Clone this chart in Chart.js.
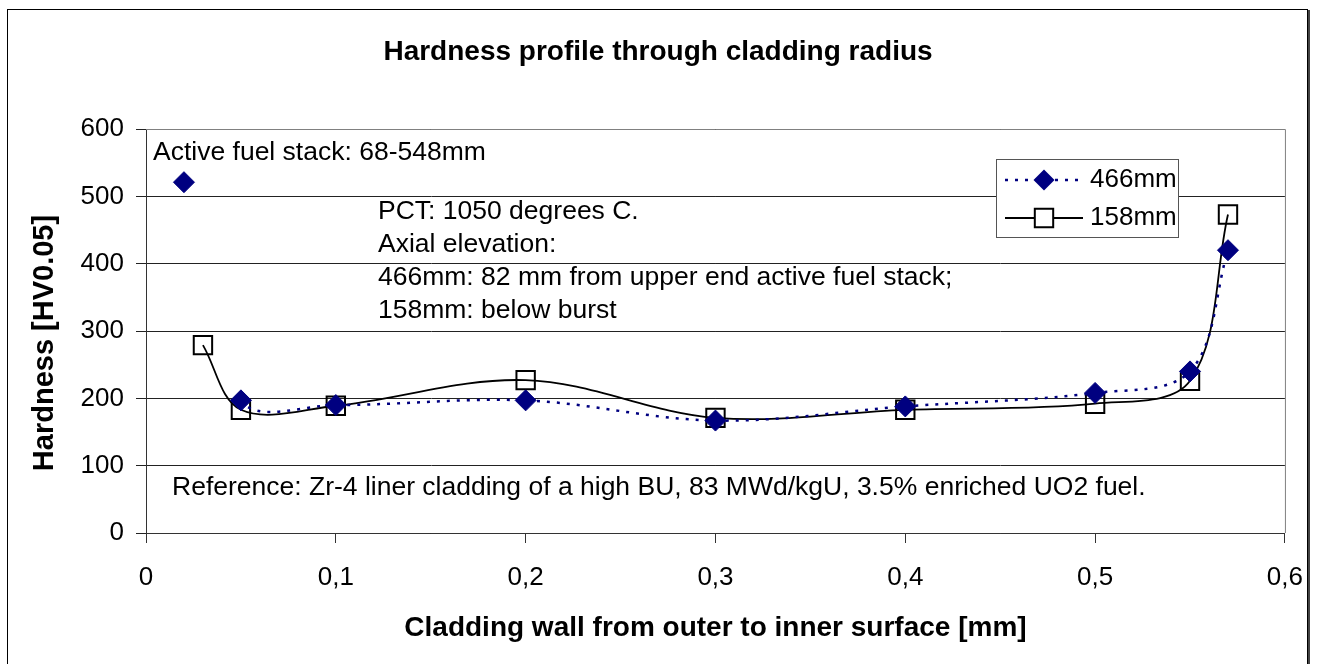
<!DOCTYPE html>
<html lang="en">
<head>
<meta charset="UTF-8" />
<title>Hardness profile through cladding radius</title>
<script src="https://cdn.jsdelivr.net/npm/chart.js"></script>
<style>
  html, body { margin: 0; padding: 0; background: #fff; }
  #wrap { width: 1322px; height: 664px; }
</style>
</head>
<body>
<div id="wrap"><canvas id="chart" width="1322" height="664"></canvas></div>
<script>
// measured points (x in mm, hardness HV0.05)
const xs466 = [0.02, 0.05, 0.1, 0.2, 0.3, 0.4, 0.5, 0.55, 0.57];
const hv466 = [521, 197, 190, 197, 167, 188, 208, 240, 420];
const xs158 = [0.03, 0.05, 0.1, 0.2, 0.3, 0.4, 0.5, 0.55, 0.57];
const hv158 = [279, 183, 189, 227, 171, 183, 192, 226, 473];
const seriesNames = ['466mm', '158mm'];
const xTicks = [0, 0.1, 0.2, 0.3, 0.4, 0.5, 0.6];
const yTicks = [0, 100, 200, 300, 400, 500, 600];

const chartTitle = 'Hardness profile through cladding radius';
const xTitle = 'Cladding wall from outer to inner surface [mm]';
const yTitle = 'Hardness [HV0.05]';
const noteTop = 'Active fuel stack: 68-548mm';
const noteBlock = ['PCT: 1050 degrees C.', 'Axial elevation:', '466mm: 82 mm from upper end active fuel stack;', '158mm: below burst'];
const noteRef = 'Reference: Zr-4 liner cladding of a high BU, 83 MWd/kgU, 3.5% enriched UO2 fuel.';

const FONT = '"Liberation Sans", Arial, sans-serif';
const NAVY = '#000080';

const toPts = (xs, ys) => xs.map((x, i) => ({ x: x, y: ys[i] }));

// frame, titles, notes and the legend box
const decor = {
  id: 'decor',
  beforeDraw(chart) {
    const c = chart.ctx;
    c.save();
    c.fillStyle = '#fff';
    c.fillRect(0, 0, chart.width, chart.height);
    c.restore();
  },
  afterDraw(chart) {
    const c = chart.ctx;
    const a = chart.chartArea;
    c.save();
    // outer frame
    c.strokeStyle = '#000';
    c.lineWidth = 1;
    c.strokeRect(7.5, 9.5, 1300, 700);
    c.strokeStyle = '#444';
    c.lineWidth = 2;
    c.beginPath(); c.moveTo(1309, 10); c.lineTo(1309, 664); c.stroke();
    // plot area top/right edge
    c.strokeStyle = '#808080';
    c.lineWidth = 1;
    c.beginPath();
    c.moveTo(a.left, a.top + 0.5); c.lineTo(a.right + 0.5, a.top + 0.5); c.lineTo(a.right + 0.5, a.bottom);
    c.stroke();

    c.fillStyle = '#000';
    c.textBaseline = 'middle';
    c.textAlign = 'center';
    c.font = 'bold 28px ' + FONT;
    c.fillText(chartTitle, 658, 52);
    c.fillText(xTitle, (a.left + a.right) / 2, 628);
    c.save();
    c.font = 'bold 29px ' + FONT;
    c.translate(45, 343);
    c.rotate(-Math.PI / 2);
    c.fillText(yTitle, 0, 0);
    c.restore();

    c.textAlign = 'left';
    c.font = '26.5px ' + FONT;
    c.fillText(noteTop, 153, 153);
    noteBlock.forEach((t, i) => c.fillText(t, 378, 212 + i * 33));
    c.fillText(noteRef, 172, 488);

    // legend
    const lx = 996, ly = 159, lw = 182, lh = 78;
    c.fillStyle = '#fff';
    c.fillRect(lx, ly, lw, lh);
    c.strokeStyle = '#555';
    c.lineWidth = 1;
    c.strokeRect(lx + 0.5, ly + 0.5, lw, lh);
    chart.data.datasets.forEach((ds, i) => {
      const y = 180 + i * 38;
      c.save();
      c.strokeStyle = ds.borderColor;
      c.lineWidth = ds.borderWidth;
      c.setLineDash(ds.borderDash || []);
      c.beginPath(); c.moveTo(1005, y); c.lineTo(1083, y); c.stroke();
      c.restore();
      c.save();
      c.fillStyle = ds.pointBackgroundColor;
      c.strokeStyle = ds.pointBorderColor;
      c.lineWidth = ds.pointBorderWidth;
      c.beginPath();
      if (ds.pointStyle === 'rectRot') {
        const r = ds.pointRadius;
        c.moveTo(1044, y - r); c.lineTo(1044 + r, y); c.lineTo(1044, y + r); c.lineTo(1044 - r, y); c.closePath();
        c.fill();
      } else {
        const s = ds.pointRadius * Math.SQRT1_2;
        c.fillStyle = '#fff';
        c.rect(1044 - s, y - s, 2 * s, 2 * s);
        c.fill();
        c.stroke();
      }
      c.restore();
      c.fillStyle = '#000';
      c.font = '26px ' + FONT;
      c.textAlign = 'left';
      c.fillText(ds.label, 1090, y);
    });
    c.restore();
  }
};

new Chart(document.getElementById('chart'), {
  type: 'line',
  data: {
    datasets: [
      {
        label: seriesNames[0],
        data: toPts(xs466, hv466),
        borderColor: NAVY,
        borderWidth: 2.5,
        borderDash: [3, 7],
        tension: 0.35,
        pointStyle: 'rectRot',
        pointRadius: 10.5,
        pointBorderWidth: 1,
        pointBackgroundColor: NAVY,
        pointBorderColor: NAVY,
        segment: { borderColor: s => s.p0DataIndex === 0 ? 'rgba(0,0,0,0)' : undefined }
      },
      {
        label: seriesNames[1],
        data: toPts(xs158, hv158),
        borderColor: '#000',
        borderWidth: 1.8,
        tension: 0.35,
        pointStyle: 'rect',
        pointRadius: 13,
        pointBorderWidth: 2,
        pointBackgroundColor: 'rgba(0,0,0,0)',
        pointBorderColor: '#000'
      }
    ]
  },
  options: {
    responsive: false,
    animation: false,
    devicePixelRatio: 1,
    layout: { padding: { top: 129, right: 36, left: 0, bottom: 0 } },
    plugins: { legend: { display: false }, title: { display: false }, tooltip: { enabled: false } },
    scales: {
      x: {
        type: 'linear',
        min: xTicks[0],
        max: xTicks[xTicks.length - 1],
        afterFit: s => { s.height = 131; },
        afterBuildTicks: s => { s.ticks = xTicks.map(v => ({ value: v })); },
        ticks: {
          color: '#000',
          font: { family: FONT, size: 26 },
          padding: 19,
          maxRotation: 0,
          callback: v => v === 0 ? '0' : v.toFixed(1).replace('.', ',')
        },
        grid: { drawOnChartArea: false, drawTicks: true, tickLength: 10, color: '#333' },
        border: { color: '#333', width: 1 }
      },
      y: {
        min: yTicks[0],
        max: yTicks[yTicks.length - 1],
        afterFit: s => { s.width = 146; },
        afterBuildTicks: s => { s.ticks = yTicks.map(v => ({ value: v })); },
        ticks: {
          color: '#000',
          font: { family: FONT, size: 26 },
          padding: 12
        },
        grid: { color: '#222', lineWidth: 1, tickLength: 10 },
        border: { color: '#333', width: 1 }
      }
    }
  },
  plugins: [decor]
});
</script>
</body>
</html>
